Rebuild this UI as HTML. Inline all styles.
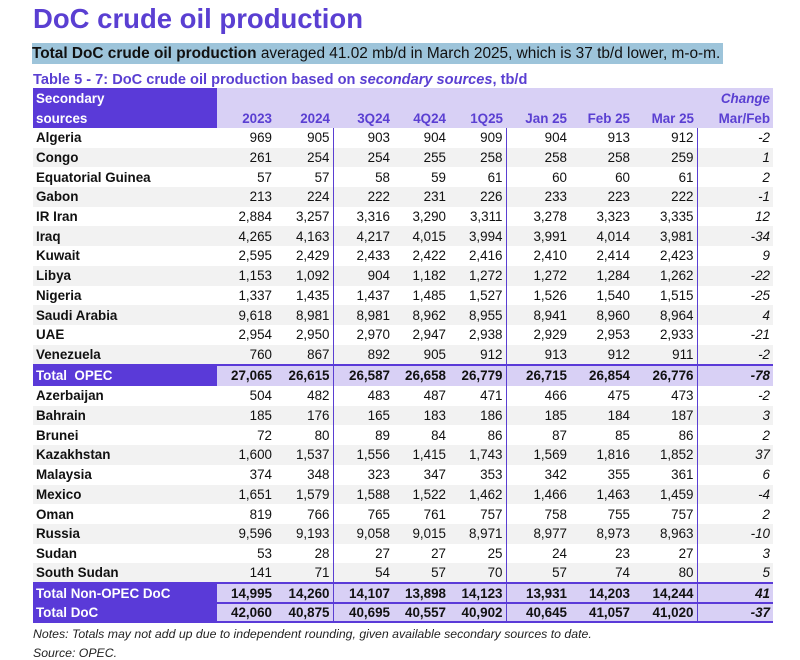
<!DOCTYPE html>
<html><head><meta charset="utf-8"><style>
body{margin:0;width:800px;height:654px;background:#fff;font-family:"Liberation Sans",Arial,sans-serif;position:relative;overflow:hidden}
.t{position:absolute;left:33px;top:3px;font-size:27.5px;font-weight:bold;color:#5a3fd2}
.s{position:absolute;left:32px;top:43px;width:691px;height:21px;background:#9dc4da;font-size:15.4px;line-height:21px;color:#111;white-space:nowrap}
.c{position:absolute;left:33px;top:72px;font-size:14.6px;font-weight:bold;color:#5a3fd2;white-space:nowrap}
table{position:absolute;left:33px;top:88px;border-collapse:collapse;table-layout:fixed;font-size:13.4px}
td{padding:0 3px 0 0;text-align:right;height:19.7px;line-height:19px;white-space:nowrap;color:#111;box-sizing:border-box}
td:first-child{text-align:left;padding-left:3px;font-weight:bold}
tr.h td{background:#d8d0f5;color:#5a3fd2;font-weight:bold;height:20px}
tr.h td:first-child{background:#5a3ad8;color:#fff}
tr.g td{background:#f2f2f2}
.b{border-right:1.5px solid #5a3fd2}
td.ch{font-style:italic}
tr.tot td{background:#d8d0f5;font-weight:bold;border-top:2px solid #5a3ad8;height:19.5px;line-height:17px}
tr.tot.o td{height:21.5px}
tr.tot td:first-child{background:#5a3ad8;color:#fff}
.n{position:absolute;left:33px;top:627px;font-size:12.3px;font-style:italic;color:#222;white-space:nowrap}
.n2{position:absolute;left:33px;top:646px;font-size:12.3px;font-style:italic;color:#222}
</style></head><body>
<div class="t">DoC crude oil production</div>
<div class="s"><b>Total DoC crude oil production</b> averaged 41.02 mb/d in March 2025, which is 37 tb/d lower, m-o-m.</div>
<div class="c">Table 5 - 7: DoC crude oil production based on <i>secondary sources</i>, tb/d</div>
<table>
<colgroup><col style="width:184px"><col style="width:58px"><col style="width:58px"><col style="width:60px"><col style="width:56px"><col style="width:57px"><col style="width:64px"><col style="width:63px"><col style="width:64px"><col style="width:76px"></colgroup>
<tr class="h"><td>Secondary</td><td></td><td></td><td></td><td></td><td></td><td></td><td></td><td></td><td><i>Change</i></td></tr>
<tr class="h"><td>sources</td><td>2023</td><td>2024</td><td>3Q24</td><td>4Q24</td><td>1Q25</td><td>Jan 25</td><td>Feb 25</td><td>Mar 25</td><td>Mar/Feb</td></tr>
<tr><td>Algeria</td><td>969</td><td class="b">905</td><td>903</td><td>904</td><td class="b">909</td><td>904</td><td>913</td><td class="b">912</td><td class="ch">-2</td></tr>
<tr class="g"><td>Congo</td><td>261</td><td class="b">254</td><td>254</td><td>255</td><td class="b">258</td><td>258</td><td>258</td><td class="b">259</td><td class="ch">1</td></tr>
<tr><td>Equatorial Guinea</td><td>57</td><td class="b">57</td><td>58</td><td>59</td><td class="b">61</td><td>60</td><td>60</td><td class="b">61</td><td class="ch">2</td></tr>
<tr class="g"><td>Gabon</td><td>213</td><td class="b">224</td><td>222</td><td>231</td><td class="b">226</td><td>233</td><td>223</td><td class="b">222</td><td class="ch">-1</td></tr>
<tr><td>IR Iran</td><td>2,884</td><td class="b">3,257</td><td>3,316</td><td>3,290</td><td class="b">3,311</td><td>3,278</td><td>3,323</td><td class="b">3,335</td><td class="ch">12</td></tr>
<tr class="g"><td>Iraq</td><td>4,265</td><td class="b">4,163</td><td>4,217</td><td>4,015</td><td class="b">3,994</td><td>3,991</td><td>4,014</td><td class="b">3,981</td><td class="ch">-34</td></tr>
<tr><td>Kuwait</td><td>2,595</td><td class="b">2,429</td><td>2,433</td><td>2,422</td><td class="b">2,416</td><td>2,410</td><td>2,414</td><td class="b">2,423</td><td class="ch">9</td></tr>
<tr class="g"><td>Libya</td><td>1,153</td><td class="b">1,092</td><td>904</td><td>1,182</td><td class="b">1,272</td><td>1,272</td><td>1,284</td><td class="b">1,262</td><td class="ch">-22</td></tr>
<tr><td>Nigeria</td><td>1,337</td><td class="b">1,435</td><td>1,437</td><td>1,485</td><td class="b">1,527</td><td>1,526</td><td>1,540</td><td class="b">1,515</td><td class="ch">-25</td></tr>
<tr class="g"><td>Saudi Arabia</td><td>9,618</td><td class="b">8,981</td><td>8,981</td><td>8,962</td><td class="b">8,955</td><td>8,941</td><td>8,960</td><td class="b">8,964</td><td class="ch">4</td></tr>
<tr><td>UAE</td><td>2,954</td><td class="b">2,950</td><td>2,970</td><td>2,947</td><td class="b">2,938</td><td>2,929</td><td>2,953</td><td class="b">2,933</td><td class="ch">-21</td></tr>
<tr class="g"><td>Venezuela</td><td>760</td><td class="b">867</td><td>892</td><td>905</td><td class="b">912</td><td>913</td><td>912</td><td class="b">911</td><td class="ch">-2</td></tr>
<tr class="tot o"><td>Total&nbsp; OPEC</td><td>27,065</td><td class="b">26,615</td><td>26,587</td><td>26,658</td><td class="b">26,779</td><td>26,715</td><td>26,854</td><td class="b">26,776</td><td class="ch">-78</td></tr>
<tr><td>Azerbaijan</td><td>504</td><td class="b">482</td><td>483</td><td>487</td><td class="b">471</td><td>466</td><td>475</td><td class="b">473</td><td class="ch">-2</td></tr>
<tr class="g"><td>Bahrain</td><td>185</td><td class="b">176</td><td>165</td><td>183</td><td class="b">186</td><td>185</td><td>184</td><td class="b">187</td><td class="ch">3</td></tr>
<tr><td>Brunei</td><td>72</td><td class="b">80</td><td>89</td><td>84</td><td class="b">86</td><td>87</td><td>85</td><td class="b">86</td><td class="ch">2</td></tr>
<tr class="g"><td>Kazakhstan</td><td>1,600</td><td class="b">1,537</td><td>1,556</td><td>1,415</td><td class="b">1,743</td><td>1,569</td><td>1,816</td><td class="b">1,852</td><td class="ch">37</td></tr>
<tr><td>Malaysia</td><td>374</td><td class="b">348</td><td>323</td><td>347</td><td class="b">353</td><td>342</td><td>355</td><td class="b">361</td><td class="ch">6</td></tr>
<tr class="g"><td>Mexico</td><td>1,651</td><td class="b">1,579</td><td>1,588</td><td>1,522</td><td class="b">1,462</td><td>1,466</td><td>1,463</td><td class="b">1,459</td><td class="ch">-4</td></tr>
<tr><td>Oman</td><td>819</td><td class="b">766</td><td>765</td><td>761</td><td class="b">757</td><td>758</td><td>755</td><td class="b">757</td><td class="ch">2</td></tr>
<tr class="g"><td>Russia</td><td>9,596</td><td class="b">9,193</td><td>9,058</td><td>9,015</td><td class="b">8,971</td><td>8,977</td><td>8,973</td><td class="b">8,963</td><td class="ch">-10</td></tr>
<tr><td>Sudan</td><td>53</td><td class="b">28</td><td>27</td><td>27</td><td class="b">25</td><td>24</td><td>23</td><td class="b">27</td><td class="ch">3</td></tr>
<tr class="g"><td>South Sudan</td><td>141</td><td class="b">71</td><td>54</td><td>57</td><td class="b">70</td><td>57</td><td>74</td><td class="b">80</td><td class="ch">5</td></tr>
<tr class="tot"><td>Total Non-OPEC DoC</td><td>14,995</td><td class="b">14,260</td><td>14,107</td><td>13,898</td><td class="b">14,123</td><td>13,931</td><td>14,203</td><td class="b">14,244</td><td class="ch">41</td></tr>
<tr class="tot" style="border-bottom:2px solid #5a3ad8"><td>Total DoC</td><td>42,060</td><td class="b">40,875</td><td>40,695</td><td>40,557</td><td class="b">40,902</td><td>40,645</td><td>41,057</td><td class="b">41,020</td><td class="ch">-37</td></tr>
</table>
<div class="n">Notes: Totals may not add up due to independent rounding, given available secondary sources to date.</div>
<div class="n2">Source: OPEC.</div>
</body></html>
